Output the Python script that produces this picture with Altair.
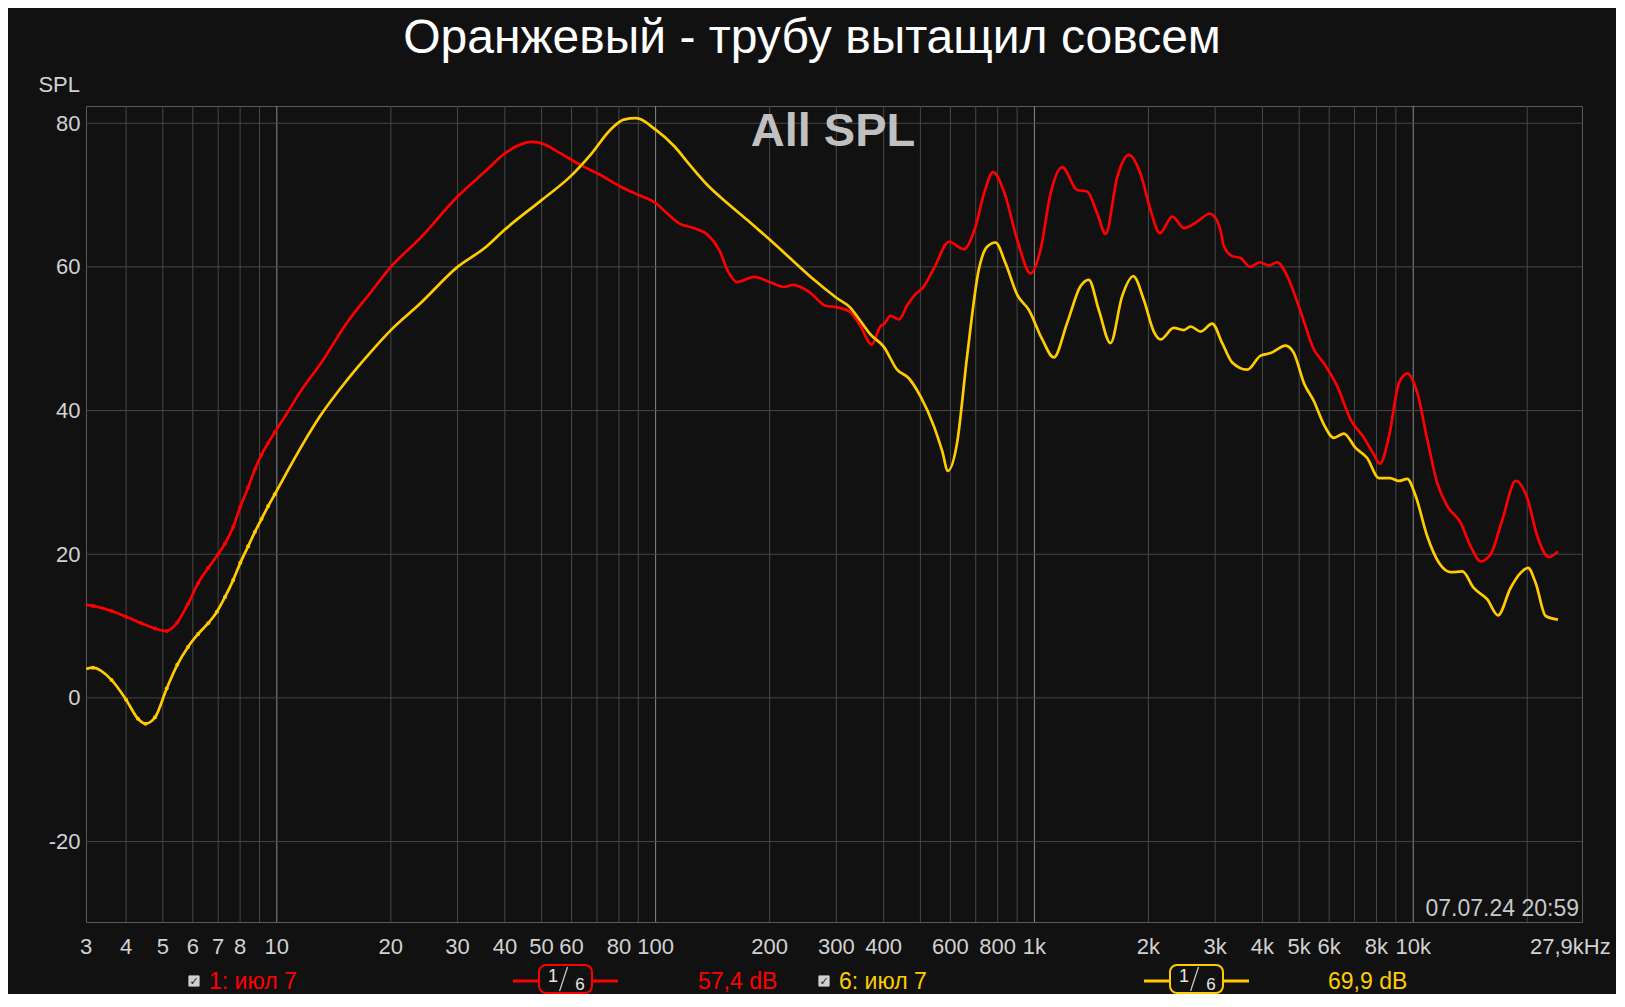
import altair as alt
import pandas as pd

# ---------------- data ----------------
red_freq = [3.14, 3.27, 3.66, 4.0, 4.39, 4.77, 5.12, 5.46, 5.83, 6.2, 6.59, 7.0, 7.3, 7.67, 8.01, 8.4, 8.75, 9.11, 9.49, 9.88,
            10.6, 11.7, 13.0, 15.3, 17.6, 20, 23.9, 30, 35.5, 40, 47.2, 50, 56.1, 63.3, 71.5, 80.7, 89.3, 100,
            107, 116, 126, 137, 147, 156, 164, 182, 200, 218, 231, 256, 281, 300, 327, 347, 372, 393, 400, 417,
            439, 462, 486, 506, 543, 595, 651, 699, 736, 778, 831, 901, 977, 1038, 1103, 1184, 1297, 1378, 1465,
            1542, 1654, 1775, 1905, 2026, 2144, 2312, 2481, 2690, 2900, 2990, 3101, 3163, 3328, 3501, 3706, 3937,
            4159, 4375, 4650, 5043, 5469, 5810, 6300, 6835, 7413, 7870, 8167, 8630, 9170, 9647, 10250, 10890,
            11576, 12300, 13340, 14180, 15070, 16010, 17190, 18640, 20010, 21270, 22820, 24100]
red_db = [12.95, 12.8, 12.1, 11.3, 10.4, 9.65, 9.3, 10.5, 13.1, 16.0, 18.1, 20.0, 21.5, 23.8, 26.6, 29.3, 31.8, 33.85, 35.5, 37.0,
          39.5, 43.1, 46.4, 52.2, 56.3, 60.0, 64.0, 69.8, 73.3, 75.8, 77.4, 77.2, 75.8, 74.2, 72.8, 71.2, 70.1, 68.9,
          67.5, 66.0, 65.4, 64.5, 62.4, 59.2, 57.9, 58.6, 57.9, 57.2, 57.5, 56.4, 54.6, 54.4, 53.7, 51.8, 49.2, 51.8, 52.0, 53.2,
          52.7, 54.7, 56.25, 57.0, 59.8, 63.5, 62.45, 65.6, 70.2, 73.2, 70.5, 63.75, 59.1, 62.4, 70.2, 73.9, 70.7, 70.5, 67.45,
          64.6, 72.5, 75.6, 73.0, 67.9, 64.7, 67.0, 65.4, 66.3, 67.4, 67.0, 65.0, 62.9, 61.5, 61.25, 60.0, 60.65,
          60.2, 60.65, 58.7, 53.8, 48.5, 46.6, 43.4, 38.75, 36.2, 33.9, 32.6, 36.4, 43.85, 45.15, 42.5, 36.0,
          29.9, 26.7, 24.4, 21.1, 19.0, 20.0, 24.8, 30.2, 27.8, 22.5, 19.6, 20.4]

yel_freq = [3.14, 3.27, 3.66, 4.0, 4.3, 4.5, 4.77, 5.12, 5.46, 5.83, 6.2, 6.59, 6.95, 7.3, 7.67, 8.01, 8.4, 8.75, 9.11, 9.49, 9.88,
            10.6, 11.7, 13.0, 15.3, 17.6, 20, 23.9, 30, 35.5, 40, 50, 59.6, 67.3, 76, 82.4, 88.9, 100, 112, 124, 137,
            154.5, 174, 200, 231, 262, 300, 327, 347, 369, 400, 434, 466, 500, 543, 571, 591, 625, 664, 713, 750, 789,
            839, 901, 967, 1049, 1125, 1220, 1323, 1392, 1479, 1588, 1704, 1824, 1945, 2066, 2153, 2333, 2481, 2584,
            2746, 2947, 3132, 3328, 3646, 3954, 4202, 4603, 4842, 5145, 5469, 5810, 6174, 6561, 7044, 7560, 8117,
            8680, 9170, 9647, 10150, 10890, 11695, 12560, 13480, 14450, 15690, 16740, 18070, 19210, 20100, 21050,
            22370, 24100]
yel_db = [4.04, 4.2, 2.5, -0.25, -2.9, -3.6, -2.7, 1.3, 4.6, 7.1, 8.9, 10.4, 12.0, 14.05, 16.4, 18.8, 21.1, 23.1, 24.9, 26.7, 28.35,
          31.3, 35.3, 39.2, 44.2, 48.0, 51.2, 54.9, 60.0, 62.7, 65.2, 69.3, 72.6, 75.6, 79.1, 80.5, 80.7, 79.1, 76.8, 74.0, 71.4,
          68.9, 66.6, 63.8, 60.8, 58.2, 55.7, 54.3, 52.5, 50.6, 48.9, 45.7, 44.5, 42.0, 37.8, 34.35, 31.6, 35.5, 47.5, 59.6, 62.8, 63.4,
          60.5, 56.1, 54.0, 49.9, 47.4, 52.2, 57.3, 58.2, 54.0, 49.4, 55.9, 58.7, 55.4, 51.0, 49.9, 51.5, 51.2, 51.7,
          51.0, 52.1, 49.4, 46.7, 45.7, 47.65, 48.0, 49.05, 48.0, 43.85, 41.3, 38.05, 36.2, 36.8, 34.8, 33.4, 30.6,
          30.6, 30.2, 30.5, 28.1, 22.5, 18.8, 17.5, 17.6, 15.3, 13.7, 11.5, 15.3, 17.4, 18.1, 16.0,
          11.4, 10.9]

y_tick_values = [-20, 0, 20, 40, 60, 80]
x_label_freq = [3.135, 4, 5, 6, 7, 8, 10, 20, 30, 40, 50, 60, 80, 100, 200, 300, 400, 600, 800,
                1000, 2000, 3000, 4000, 5000, 6000, 8000, 10000, 26000]
x_label_text = ["3", "4", "5", "6", "7", "8", "10", "20", "30", "40", "50", "60", "80", "100", "200", "300", "400",
                "600", "800", "1k", "2k", "3k", "4k", "5k", "6k", "8k", "10k", "27,9kHz"]
grid_minor = [4, 5, 6, 7, 8, 9, 20, 30, 40, 50, 60, 70, 80, 90, 200, 300, 400, 500, 600, 700, 800, 900,
              2000, 3000, 4000, 5000, 6000, 7000, 8000, 9000, 20000]
grid_major = [10, 100, 1000, 10000]

title_text = "Оранжевый - трубу вытащил совсем"
legend_names = ["1: июл 7", "6: июл 7"]
legend_levels = ["57,4 dB", "69,9 dB"]
timestamp = "07.07.24 20:59"

# ---------------- styling ----------------
BG = "#111111"
RED = "#ff0000"
YEL = "#ffcc00"
LBL = "#d2d2d2"
FONT = "Liberation Sans"
W, H = 1496, 816

xs = alt.Scale(type="log", domain=[3.135, 27900], nice=False)
ys = alt.Scale(domain=[-31.2, 82.4], nice=False, zero=False)
yaxis = alt.Axis(values=y_tick_values, labelExpr="'' + datum.value", grid=False, ticks=False, domain=False,
                 labelFontSize=22, labelColor=LBL, labelFont=FONT, labelPadding=6, title=None)

red_df = pd.DataFrame({"f": red_freq, "db": red_db})
yel_df = pd.DataFrame({"f": yel_freq, "db": yel_db})


def vgrid(vals, color):
    return alt.Chart(pd.DataFrame({"f": vals})).mark_rule(color=color, strokeWidth=1).encode(
        x=alt.X("f:Q", scale=xs, axis=None))


hgrid = alt.Chart(pd.DataFrame({"db": y_tick_values})).mark_rule(color="#474747", strokeWidth=1).encode(
    y=alt.Y("db:Q", scale=ys, axis=yaxis))


def curve(df, color):
    line = alt.Chart(df).mark_line(color=color, strokeWidth=2.7, interpolate="monotone", clip=True).encode(
        x=alt.X("f:Q", scale=xs, axis=None), y=alt.Y("db:Q", scale=ys, axis=yaxis))
    pts = alt.Chart(df).transform_filter("datum.f > 3.2 && datum.f < 10").mark_point(
        filled=True, color=color, size=16, opacity=1).encode(
        x=alt.X("f:Q", scale=xs, axis=None), y=alt.Y("db:Q", scale=ys, axis=yaxis))
    return line + pts


def txt(s, x, y, size, color, align="left", weight="normal", font=FONT, baseline="middle"):
    return alt.Chart(pd.DataFrame({"t": [s]})).mark_text(
        align=align, baseline=baseline, fontSize=size, color=color, fontWeight=weight, font=font).encode(
        x=alt.value(x), y=alt.value(y), text="t:N")


def seg(x1, x2, y1, y2, color, width):
    return alt.Chart(pd.DataFrame({"a": [0]})).mark_rule(color=color, strokeWidth=width).encode(
        x=alt.value(x1), x2=alt.value(x2), y=alt.value(y1), y2=alt.value(y2))


def box(x1, x2, y1, y2, stroke, fill, width, radius):
    return alt.Chart(pd.DataFrame({"a": [0]})).mark_rect(
        stroke=stroke, fill=fill, strokeWidth=width, cornerRadius=radius).encode(
        x=alt.value(x1), x2=alt.value(x2), y=alt.value(y1), y2=alt.value(y2))


xlabels = alt.Chart(pd.DataFrame({"f": x_label_freq, "lab": x_label_text})).mark_text(
    align="center", baseline="middle", fontSize=22, color=LBL, font=FONT).encode(
    x=alt.X("f:Q", scale=xs, axis=None), y=alt.value(840.5), text="lab:N")

LEG_BASE = 883   # text baseline of the legend row (plot coordinates)
LEG_MID = 875    # vertical middle of the legend row


def legend_item(x0, name, color):
    return [
        box(x0, x0 + 11, LEG_MID - 5.5, LEG_MID + 5.5, "#9a9a9a", "#d0d0d0", 0.5, 1),
        txt("✓", x0 + 5.5, LEG_MID + 0.5, 11, "#202020", align="center", font="DejaVu Sans"),
        txt(name, x0 + 20.5, LEG_BASE, 23, color, baseline="alphabetic"),
    ]


def filt_item(bx, color):
    return [
        seg(bx - 26, bx, LEG_MID, LEG_MID, color, 3),
        seg(bx + 53, bx + 79, LEG_MID, LEG_MID, color, 3),
        box(bx, bx + 53, 859, 887, color, BG, 2, 7),
        seg(bx + 28.5, bx + 20.6, 861, 885, "#cfcfcf", 1.2),
        txt("1", bx + 14, 876, 18, "#e6e6e6", align="center", baseline="alphabetic"),
        txt("6", bx + 41, 884, 17, "#e6e6e6", align="center", baseline="alphabetic"),
    ]


layers = [vgrid(grid_minor, "#474747"), vgrid(grid_major, "#8a8a8a"), hgrid,
          curve(red_df, RED), curve(yel_df, YEL), xlabels,
          txt(title_text, 726, -67, 48, "#ffffff", align="center"),
          txt("SPL", -6, -21, 22, LBL, align="right"),
          txt("All SPL", 747, 26, 47, "#c0c0c0", align="center", weight="bold"),
          txt(timestamp, 1493, 803, 23, "#c8c8c8", align="right")]
layers += legend_item(102.5, legend_names[0], RED)
layers += filt_item(453, RED)
layers.append(txt(legend_levels[0], 612, LEG_BASE, 23, RED, baseline="alphabetic"))
layers += legend_item(732.5, legend_names[1], YEL)
layers += filt_item(1084, YEL)
layers.append(txt(legend_levels[1], 1242, LEG_BASE, 23, YEL, baseline="alphabetic"))

chart = alt.layer(*layers).properties(
    width=W, height=H,
    autosize=alt.AutoSizeParams(type="none"),
    padding={"left": 78, "top": 98, "right": 34, "bottom": 72},
    background=BG,
).configure_view(stroke="#5a5a5a", strokeWidth=1, fill=BG)

chart.save("out.html", embed_options={"renderer": "svg", "actions": False})
